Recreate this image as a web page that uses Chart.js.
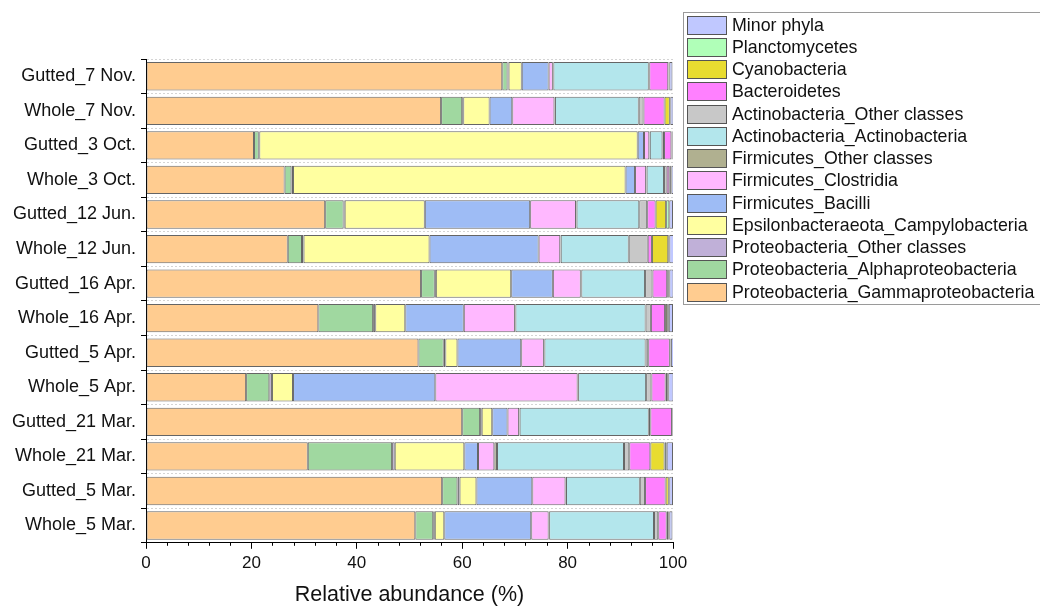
<!DOCTYPE html>
<html>
<head>
<meta charset="utf-8">
<script src="https://cdn.jsdelivr.net/npm/chart.js@4/dist/chart.umd.min.js"></script>
<style>
  html, body { margin: 0; padding: 0; background: #fff; }
  #wrap { position: relative; width: 1040px; height: 608px; overflow: hidden; }
  #legend {
    position: absolute; left: 683px; top: 12px; width: 360px;
    border: 1px solid #9a9a9a; box-sizing: border-box; padding: 1px 0 1px 3px;
    font-family: "Liberation Sans", Arial, sans-serif; font-size: 17.8px; color: #111;
  }
  #legend .item { display: flex; align-items: center; height: 22.25px; white-space: nowrap; }
  #legend .box { width: 40px; height: 19px; border: 1px solid #555; margin-right: 5px; box-sizing: border-box; flex: none; }
</style>
</head>
<body>
<div id="wrap">
  <canvas id="chart" width="1040" height="608"></canvas>
  <div id="legend"></div>
</div>
<script>
const samples = [
  "Gutted_7 Nov.", "Whole_7 Nov.", "Gutted_3 Oct.", "Whole_3 Oct.",
  "Gutted_12 Jun.", "Whole_12 Jun.", "Gutted_16 Apr.", "Whole_16 Apr.",
  "Gutted_5 Apr.", "Whole_5 Apr.", "Gutted_21 Mar.", "Whole_21 Mar.",
  "Gutted_5 Mar.", "Whole_5 Mar."
];

const seriesNames = [
  "Proteobacteria_Gammaproteobacteria",
  "Proteobacteria_Alphaproteobacteria",
  "Proteobacteria_Other classes",
  "Epsilonbacteraeota_Campylobacteria",
  "Firmicutes_Bacilli",
  "Firmicutes_Clostridia",
  "Firmicutes_Other classes",
  "Actinobacteria_Actinobacteria",
  "Actinobacteria_Other classes",
  "Bacteroidetes",
  "Cyanobacteria",
  "Planctomycetes",
  "Minor phyla"
];

const seriesColors = [
  "#FFCC90", "#A0D8A0", "#C0B0D8", "#FFFFA0", "#9EBCF5", "#FFB8FF",
  "#B0B090", "#B3E6EC", "#C8C8C8", "#FF80FF", "#E8DC30", "#B0FFB8", "#C0C8FF"
];

// values per series, one entry per sample (same order as samples)
const gammaproteo   = [67.6, 56.0, 20.5, 26.3, 34.0, 26.9, 52.2, 32.7, 51.7, 19.0, 60.0, 30.7, 56.2, 51.1];
const alphaproteo   = [1.0, 4.0, 0.9, 1.3, 3.5, 2.7, 2.6, 10.4, 4.8, 4.4, 3.4, 16.0, 2.9, 3.4];
const proteoOther   = [0.2, 0.2, 0.1, 0.3, 0.2, 0.3, 0.2, 0.4, 0.3, 0.5, 0.3, 0.5, 0.4, 0.3];
const campylo       = [2.5, 5.0, 71.8, 63.1, 15.2, 23.9, 14.3, 5.7, 2.3, 4.0, 2.0, 13.2, 3.2, 1.8];
const bacilli       = [5.1, 4.3, 1.2, 1.8, 20.0, 20.7, 7.9, 11.1, 12.1, 27.0, 2.9, 2.6, 10.6, 16.5];
const clostridia    = [0.8, 8.0, 1.0, 2.1, 8.7, 4.1, 5.3, 9.7, 4.3, 27.0, 2.2, 3.1, 6.3, 3.3];
const firmOther     = [0.1, 0.1, 0.1, 0.1, 0.1, 0.1, 0.1, 0.1, 0.1, 0.1, 0.1, 0.5, 0.1, 0.1];
const actinobact    = [18.1, 15.9, 2.4, 3.3, 11.9, 12.9, 12.1, 24.7, 19.2, 12.9, 24.5, 24.1, 14.0, 19.9];
const actinoOther   = [0.1, 0.9, 0.3, 0.5, 1.5, 3.6, 1.4, 1.0, 0.5, 1.0, 0.3, 1.0, 1.0, 0.8];
const bacteroidetes = [3.6, 4.0, 1.4, 0.5, 1.6, 0.8, 2.8, 2.7, 4.1, 2.7, 4.1, 4.0, 3.9, 1.6];
const cyanobact     = [0.1, 1.0, 0.1, 0.3, 2.0, 3.1, 0.3, 0.4, 0.1, 0.3, 0.1, 2.7, 0.6, 0.3];
const planctomyc    = [0.1, 0.1, 0.1, 0.1, 0.6, 0.2, 0.1, 0.3, 0.1, 0.2, 0.1, 0.4, 0.1, 0.2];
const minorPhyla    = [0.6, 0.6, 0.5, 0.5, 0.7, 1.0, 0.8, 0.8, 0.6, 1.0, 0.3, 1.2, 0.7, 0.6];

const seriesValues = [
  gammaproteo, alphaproteo, proteoOther, campylo, bacilli, clostridia,
  firmOther, actinobact, actinoOther, bacteroidetes, cyanobact, planctomyc, minorPhyla
];

const xTicks = [0, 20, 40, 60, 80, 100];

const FONT = "'Liberation Sans', Arial, sans-serif";

// short minor ticks on the x axis, every 4 %
const minorTicks = {
  id: "minorTicks",
  afterDraw(chart) {
    const x = chart.scales.x;
    const ctx = chart.ctx;
    ctx.save();
    ctx.strokeStyle = "#000";
    ctx.lineWidth = 1;
    for (let v = 0; v <= 100; v += 4) {
      if (v % 20 === 0) continue;
      const px = Math.round(x.getPixelForValue(v)) + 0.5;
      ctx.beginPath();
      ctx.moveTo(px, x.top);
      ctx.lineTo(px, x.top + 3);
      ctx.stroke();
    }
    ctx.restore();
  },
};

function buildLegend() {
  const el = document.getElementById("legend");
  for (let i = seriesNames.length - 1; i >= 0; i--) {
    const row = document.createElement("div");
    row.className = "item";
    const box = document.createElement("div");
    box.className = "box";
    box.style.background = seriesColors[i];
    const txt = document.createElement("span");
    txt.textContent = seriesNames[i];
    row.appendChild(box);
    row.appendChild(txt);
    el.appendChild(row);
  }
}

function initChart() {
  const ctx = document.getElementById("chart");
  new Chart(ctx, {
    type: "bar",
    data: {
      labels: samples,
      datasets: seriesNames.map((name, i) => ({
        label: name,
        data: seriesValues[i],
        backgroundColor: seriesColors[i],
        borderColor: "rgba(50, 50, 50, 0.75)",
        borderWidth: 1,
        borderSkipped: false,
        categoryPercentage: 1,
        barPercentage: 0.82,
      })),
    },
    options: {
      indexAxis: "y",
      responsive: false,
      animation: false,
      layout: { padding: { top: 59, right: 367, bottom: 0, left: 0 } },
      plugins: {
        legend: { display: false },
        tooltip: { enabled: false },
      },
      scales: {
        x: {
          stacked: true,
          min: 0,
          max: 100,
          afterBuildTicks: (scale) => {
            scale.ticks = xTicks.map((v) => ({ value: v }));
          },
          grid: {
            drawOnChartArea: false,
            drawTicks: true,
            tickLength: 6,
            tickColor: "#000",
          },
          border: { color: "#000", width: 1 },
          ticks: {
            color: "#111",
            font: { family: FONT, size: 17 },
            padding: 4,
          },
          title: {
            display: true,
            text: "Relative abundance (%)",
            color: "#111",
            font: { family: FONT, size: 21.5 },
            padding: { top: 5, bottom: 0 },
          },
        },
        y: {
          stacked: true,
          afterFit: (scale) => {
            scale.width = 146;
          },
          grid: {
            offset: true,
            color: "#d4d4d4",
            tickColor: "#000",
            tickLength: 5,
          },
          border: { color: "#000", width: 1, dash: [2, 2] },
          ticks: {
            color: "#111",
            font: { family: FONT, size: 18 },
            padding: 5,
          },
        },
      },
    },
    plugins: [minorTicks],
  });
}

buildLegend();
initChart();
</script>
</body>
</html>
